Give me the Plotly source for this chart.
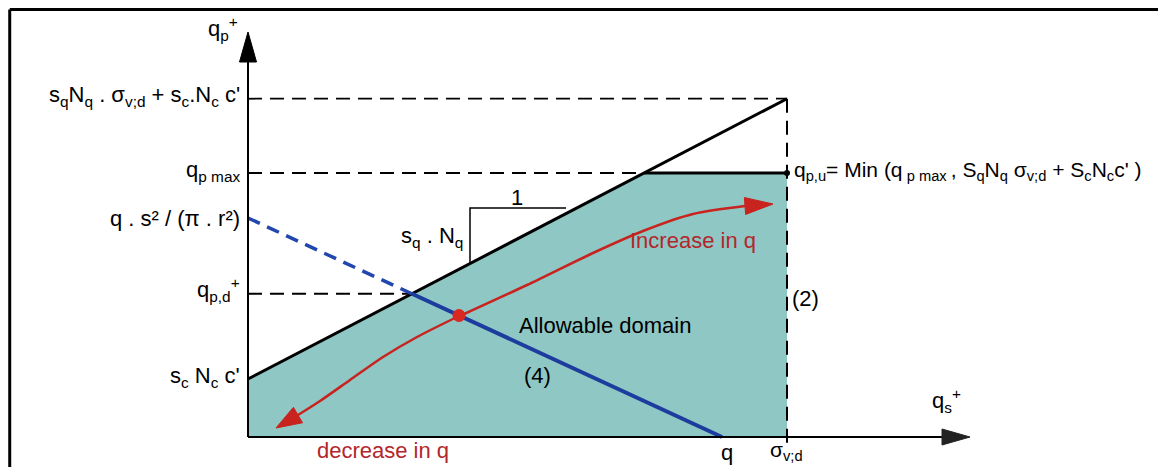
import numpy as np
import plotly.graph_objects as go

# ---- schematic values (origin = intersection of the q_s and q_p axes) ----
sigma_vd = 539            # σ_v;d on the q_s axis
sc_Nc_c = 58              # s_c N_c c'
sq_Nq = 0.52              # slope s_q · N_q
q_p_max = 264             # q_p max
q_s2_pi_r2 = 219          # q · s² / (π · r²)
q_val = 474               # q on the q_s axis
red_dot_x = 211           # working point on line (4)
decrease_x = [211, 169, 135, 102, 72, 50, 28]
decrease_y = [121, 100, 80, 57, 36, 22, 9]
increase_x = [214, 279, 345, 395, 445, 497, 525]
increase_y = [122, 152, 184, 206, 223, 231, 233]
axis_x_end = 722
axis_y_end = 405
slope_tri_x = [222, 318]  # the "1 / s_q N_q" slope triangle
slope_tri_top = 229

# ---- derived geometry ----
top = sc_Nc_c + sq_Nq * sigma_vd
x_cap = (q_p_max - sc_Nc_c) / sq_Nq
blue_slope = q_s2_pi_r2 / q_val
x_int = (q_s2_pi_r2 - sc_Nc_c) / (sq_Nq + blue_slope)
q_pd = sc_Nc_c + sq_Nq * x_int
red_dot_y = q_s2_pi_r2 - blue_slope * red_dot_x
tri_y = sc_Nc_c + sq_Nq * slope_tri_x[0]

TEAL = "#8ec7c4"
BLUE = "#1c3c9e"
RED = "#c8231f"
TXT_RED = "#b3262c"
FONT = "Liberation Sans, Arial, Helvetica, sans-serif"
FS = 22

fig = go.Figure()


def line(x, y, color="black", width=2, dash=None, shape="linear", smoothing=None):
    ln = dict(color=color, width=width, dash=dash, shape=shape)
    if smoothing is not None:
        ln["smoothing"] = smoothing
    fig.add_trace(go.Scatter(x=x, y=y, mode="lines", hoverinfo="skip", line=ln,
                             showlegend=False))


def head(base, tip, width, color):
    bx, by = base
    tx, ty = tip
    d = np.array([tx - bx, ty - by], float)
    d /= np.linalg.norm(d)
    p = np.array([-d[1], d[0]]) * width / 2
    xs = [bx + p[0], tx, bx - p[0], bx + p[0]]
    ys = [by + p[1], ty, by - p[1], by + p[1]]
    fig.add_trace(go.Scatter(x=xs, y=ys, mode="lines", fill="toself", fillcolor=color,
                             line=dict(color=color, width=1), hoverinfo="skip",
                             showlegend=False))


# allowable domain
fig.add_trace(go.Scatter(x=[0, 0, x_cap, sigma_vd, sigma_vd, 0],
                         y=[0, sc_Nc_c, q_p_max, q_p_max, 0, 0],
                         mode="lines", fill="toself", fillcolor=TEAL,
                         line=dict(width=0, color=TEAL), hoverinfo="skip",
                         showlegend=False))

DASH = "14px,8px"
# dashed guides
line([0, sigma_vd], [top, top], dash=DASH, width=1.8)
line([0, x_cap], [q_p_max, q_p_max], dash=DASH, width=1.8)
line([0, x_int], [q_pd, q_pd], dash=DASH, width=1.8)
line([sigma_vd, sigma_vd], [top, -10], dash=DASH, width=2)
# q_p max cap (solid)
line([x_cap, sigma_vd], [q_p_max, q_p_max], width=3)
# failure line
line([0, sigma_vd], [sc_Nc_c, top], width=3)
# slope triangle
line([slope_tri_x[0], slope_tri_x[0], slope_tri_x[1]], [tri_y, slope_tri_top, slope_tri_top], width=1.5)
# line (4)
line([0, x_int], [q_s2_pi_r2, q_pd], color="#2146ad", width=3.5, dash="13px,8px")
line([x_int, q_val], [q_pd, 0], color=BLUE, width=4)

# red curves
line(decrease_x[:-1], decrease_y[:-1], color=RED, width=2.5, shape="spline", smoothing=0.8)
head((decrease_x[-2], decrease_y[-2]), (decrease_x[-1], decrease_y[-1]), 18, RED)
line(increase_x[:-1], increase_y[:-1], color=RED, width=2.5, shape="spline", smoothing=0.8)
head((increase_x[-2], increase_y[-2]), (increase_x[-1], increase_y[-1]), 17, RED)

# axes
line([0, 0], [0, axis_y_end - 30], width=2)
head((0, axis_y_end - 30), (0, axis_y_end), 17, "black")
line([0, axis_x_end - 28], [0, 0], width=2)
head((axis_x_end - 28, 0), (axis_x_end, 0), 16, "#222")

# points
fig.add_trace(go.Scatter(x=[red_dot_x], y=[red_dot_y], mode="markers", hoverinfo="skip",
                         marker=dict(color="#d9281f", size=13), showlegend=False))
fig.add_trace(go.Scatter(x=[sigma_vd], y=[q_p_max], mode="markers", hoverinfo="skip",
                         marker=dict(color="black", size=6), showlegend=False))


def txt(x, y, s, xa="center", ya="middle", color="black", size=FS):
    fig.add_annotation(x=x, y=y, text=s, showarrow=False, xanchor=xa, yanchor=ya,
                       font=dict(family=FONT, size=size, color=color))


L = -6
txt(L, top + 3, "s<sub>q</sub>N<sub>q</sub> . σ<sub>v;d</sub> + s<sub>c</sub>.N<sub>c</sub> c'", xa="right")
txt(L, q_p_max + 2, "q<sub>p max</sub>", xa="right")
txt(L, q_s2_pi_r2, "q . s² / (π . r²)", xa="right")
txt(L, q_pd + 4, "q<sub>p,d</sub><sup>+</sup>", xa="right")
txt(L, sc_Nc_c + 2, "s<sub>c</sub> N<sub>c</sub> c'", xa="right")
txt(-8, axis_y_end + 4, "q<sub>p</sub><sup>+</sup>", xa="right")
txt(sigma_vd + 5, q_p_max + 2,
    "q<sub>p,u</sub>= Min (q<sub> p max </sub>, S<sub>q</sub>N<sub>q</sub> σ<sub>v;d</sub> + S<sub>c</sub>N<sub>c</sub>c' )",
    xa="left", size=21)
txt(269, 240, "1")
txt(217, 200, "s<sub>q</sub> . N<sub>q</sub>", xa="right")
txt(445, 197, "Increase in q", color=TXT_RED)
txt(357, 112, "Allowable domain")
txt(289, 62, "(4)")
txt(sigma_vd + 3, 139, "(2)", xa="left")
txt(q_val + 5, -15, "q")
txt(sigma_vd - 19, -14, "σ<sub>v;d</sub>", xa="left", size=21)
txt(135, -13, "decrease in q", color=TXT_RED)
txt(axis_x_end - 40, 37, "q<sub>s</sub><sup>+</sup>", xa="left")

# frame (top and left edges)
fig.add_shape(type="line", xref="paper", yref="paper", x0=0.0015, x1=1, y0=0.9967, y1=0.9967,
              line=dict(color="black", width=3))
fig.add_shape(type="line", xref="paper", yref="paper", x0=0.0015, x1=0.0015, y0=0, y1=0.9967,
              line=dict(color="black", width=3))

# the page body adds an 8px margin, so the figure is 1150x459 and coordinates are 1 unit = 1 px
fig.update_layout(width=1150, height=459, margin=dict(l=0, r=0, t=0, b=0),
                  paper_bgcolor="white", plot_bgcolor="white",
                  xaxis=dict(range=[-240, 910], visible=False, fixedrange=True),
                  yaxis=dict(range=[-30, 429], visible=False, fixedrange=True))
fig.write_html("out.html")
